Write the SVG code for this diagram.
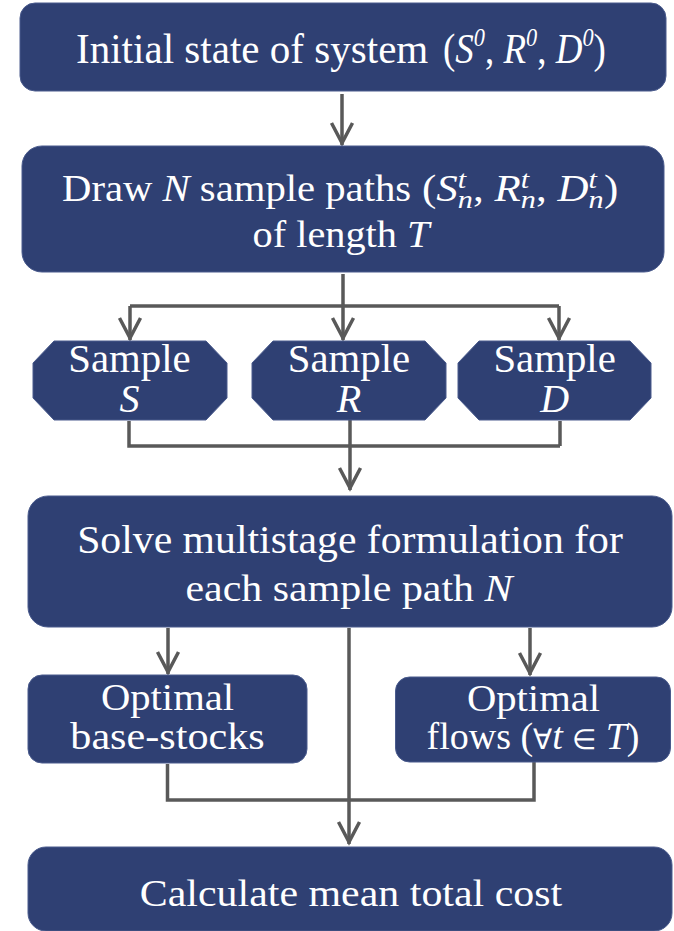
<svg xmlns="http://www.w3.org/2000/svg" width="674" height="931" viewBox="0 0 674 931">
<style>
.box{fill:#2f4073;stroke:#4a5b8d;stroke-width:1}
.t{fill:#ffffff;font-family:"Liberation Serif","Times New Roman",serif}
.m{text-anchor:middle}
.i{font-style:italic}
.c{fill:none;stroke:#595959;stroke-width:3.5}
</style>
<defs>
<marker id="ah" markerUnits="userSpaceOnUse" viewBox="-24 -13 28 26" markerWidth="28" markerHeight="26" refX="2" refY="0" orient="auto">
<path d="M-20,-10.5 L0,0 L-20,10.5" fill="none" stroke="#595959" stroke-width="3.5"/>
</marker>
</defs>
<rect width="674" height="931" fill="#ffffff"/>
<g id="connectors">
<path class="c" d="M342,94 V145" marker-end="url(#ah)"/>
<path class="c" d="M343,274 V306 M130,306 H559"/>
<path class="c" d="M130,306 V340" marker-end="url(#ah)"/>
<path class="c" d="M343,306 V340" marker-end="url(#ah)"/>
<path class="c" d="M559,306 V340" marker-end="url(#ah)"/>
<path class="c" d="M129,421 V446 H560 M560,421 V446"/>
<path class="c" d="M350,419 V490" marker-end="url(#ah)"/>
<path class="c" d="M168,628 V674" marker-end="url(#ah)"/>
<path class="c" d="M530,628 V675" marker-end="url(#ah)"/>
<path class="c" d="M349,628 V844" marker-end="url(#ah)"/>
<path class="c" d="M167.5,764 V800 H534 V762"/>
</g>
<g id="n1">
<rect class="box" x="20" y="3" width="646" height="88" rx="15"/>
<text class="t" font-size="43" transform="translate(76,63) scale(0.955,1)">Initial state of system</text>
<text class="t" font-size="43" transform="translate(443,63) scale(0.86,1)">(<tspan class="i">S</tspan><tspan class="i" font-size="26" dy="-17">0</tspan><tspan dy="17">, </tspan><tspan class="i">R</tspan><tspan class="i" font-size="26" dy="-17">0</tspan><tspan dy="17">, </tspan><tspan class="i">D</tspan><tspan class="i" font-size="26" dy="-17">0</tspan><tspan dy="17">)</tspan></text>
</g>
<g id="n2">
<rect class="box" x="22" y="146" width="642" height="126" rx="20"/>
<text class="t" font-size="37" transform="translate(62,200.7) scale(1.1,1)">Draw <tspan class="i">N</tspan> sample paths</text>
<text class="t" font-size="37" transform="translate(422,200.7) scale(1.16,1)">(<tspan class="i">S</tspan><tspan class="i" font-size="26" dy="7">n</tspan><tspan class="i" font-size="26" dx="-13" dy="-20">t</tspan><tspan dx="6" dy="13">, </tspan><tspan class="i">R</tspan><tspan class="i" font-size="26" dy="7">n</tspan><tspan class="i" font-size="26" dx="-13" dy="-20">t</tspan><tspan dx="6" dy="13">, </tspan><tspan class="i">D</tspan><tspan class="i" font-size="26" dy="7">n</tspan><tspan class="i" font-size="26" dx="-13" dy="-20">t</tspan><tspan dx="6" dy="13">)</tspan></text>
<text class="t m" font-size="37" transform="translate(341,247) scale(1.09,1)">of length <tspan class="i">T</tspan></text>
</g>
<g id="n3">
<polygon class="box" points="54,341 206,341 227,363 227,398 206,420 54,420 33,398 33,363"/>
<text class="t m" font-size="40" transform="translate(129.5,371.7) scale(1.02,1)">Sample</text>
<text class="t m i" font-size="40" transform="translate(129.5,411.7)">S</text>
</g>
<g id="n4">
<polygon class="box" points="273,341 425,341 446,363 446,398 425,420 273,420 252,398 252,363"/>
<text class="t m" font-size="40" transform="translate(349,371.7) scale(1.02,1)">Sample</text>
<text class="t m i" font-size="40" transform="translate(349,411.7)">R</text>
</g>
<g id="n5">
<polygon class="box" points="479,341 630,341 651,363 651,398 630,420 479,420 458,398 458,363"/>
<text class="t m" font-size="40" transform="translate(554.6,371.7) scale(1.02,1)">Sample</text>
<text class="t m i" font-size="40" transform="translate(554.6,411.7)">D</text>
</g>
<g id="n6">
<rect class="box" x="28" y="496" width="644" height="131" rx="20"/>
<text class="t m" font-size="39" transform="translate(350,552.7) scale(1.07,1)">Solve multistage formulation for</text>
<text class="t m" font-size="39" transform="translate(349,600.7) scale(1.075,1)">each sample path <tspan class="i">N</tspan></text>
</g>
<g id="n7">
<rect class="box" x="28" y="675" width="279" height="88" rx="14"/>
<text class="t m" font-size="38" transform="translate(167.5,710) scale(1.07,1)">Optimal</text>
<text class="t m" font-size="38" transform="translate(167.5,749.3) scale(1.11,1)">base-stocks</text>
</g>
<g id="n8">
<rect class="box" x="395.5" y="677" width="275" height="85" rx="14"/>
<text class="t m" font-size="38" transform="translate(533.5,710.7) scale(1.07,1)">Optimal</text>
<text class="t m" font-size="38" transform="translate(533,749) scale(1,1)">flows (<tspan font-size="28">∀</tspan><tspan class="i">t</tspan> <tspan font-size="28">∈</tspan> <tspan class="i">T</tspan>)</text>
</g>
<g id="n9">
<rect class="box" x="28" y="847" width="644" height="84" rx="18"/>
<text class="t m" font-size="39" transform="translate(351,906) scale(1.075,1)">Calculate mean total cost</text>
</g>
</svg>
